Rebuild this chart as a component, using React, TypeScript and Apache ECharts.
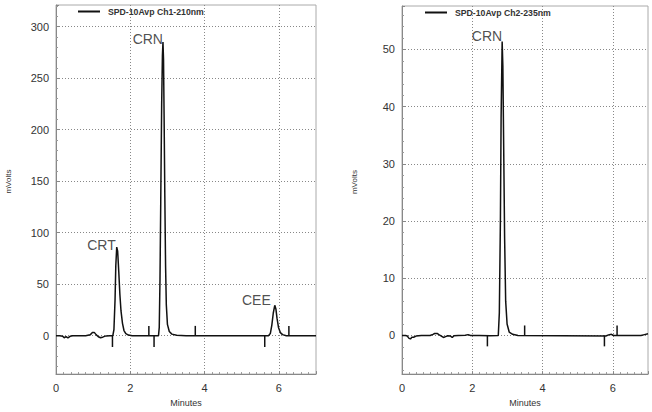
import React, { useEffect, useRef } from "react";
import * as echarts from "echarts";

const ch1Name = "SPD-10Avp Ch1-210nm";
const ch2Name = "SPD-10Avp Ch2-235nm";

const ch1Trace: number[][] = [
  [0, 0], [0.1, 0], [0.18, -0.5], [0.22, -2], [0.27, -1], [0.32, -2.2], [0.38, -0.6], [0.45, 0],
  [0.6, 0], [0.8, 0], [0.92, 0.8], [0.98, 3], [1.03, 3.2], [1.08, 1], [1.14, -1], [1.2, -2],
  [1.27, -1.2], [1.35, -0.2], [1.45, 0], [1.53, 0], [1.56, 6], [1.59, 35], [1.61, 68], [1.635, 86],
  [1.66, 82], [1.69, 62], [1.72, 40], [1.75, 24], [1.79, 12], [1.83, 5], [1.88, 2], [1.95, 0.6],
  [2.05, 0], [2.5, 0], [2.76, 0], [2.78, 8], [2.8, 55], [2.82, 130], [2.845, 225], [2.865, 272],
  [2.88, 285], [2.895, 268], [2.91, 215], [2.93, 135], [2.95, 68], [2.97, 30], [3.0, 11], [3.05, 4],
  [3.12, 1.5], [3.25, 0.5], [3.5, 0], [5.72, 0], [5.77, 2], [5.81, 10], [5.85, 22], [5.89, 29.5],
  [5.92, 26], [5.95, 17], [5.99, 8], [6.04, 3], [6.1, 1], [6.2, 0], [7, 0],
];

const ch2Trace: number[][] = [
  [0, 0], [0.1, 0], [0.15, -0.1], [0.2, -0.5], [0.24, -0.6], [0.28, -0.3], [0.33, -0.3], [0.4, -0.1],
  [0.55, 0], [0.8, 0], [0.88, 0.2], [0.93, 0.35], [1.0, 0.35], [1.05, 0.15], [1.12, -0.1], [1.18, -0.35],
  [1.24, -0.2], [1.3, -0.05], [1.38, -0.1], [1.43, -0.35], [1.48, -0.05], [1.6, 0], [1.8, 0.05],
  [1.88, 0.15], [1.95, 0], [2.2, 0], [2.5, -0.05], [2.74, 0], [2.77, 4], [2.8, 20], [2.82, 38],
  [2.85, 51.4], [2.87, 47], [2.89, 35], [2.92, 17], [2.95, 6], [2.99, 2], [3.05, 0.6], [3.15, 0.2],
  [3.3, 0], [5.8, -0.1], [5.9, 0.15], [5.96, 0.2], [6.02, 0], [6.2, 0], [6.8, 0], [6.9, 0.15], [7, 0.3],
];

// integration markers: [time, tick height]
const ch1Markers: number[][] = [
  [1.52, -11], [2.5, 9.5], [2.64, -11], [3.75, 9.5], [5.62, -11], [6.27, 9.5],
];
const ch2Markers: number[][] = [
  [2.43, -1.9], [3.49, 1.75], [5.76, -1.9], [6.12, 1.75],
];

// peak labels: [time, apex, name]
const ch1Peaks: (number | string)[][] = [
  [1.635, 86, "CRT"], [2.88, 285, "CRN"], [5.89, 29.5, "CEE"],
];
const ch2Peaks: (number | string)[][] = [[2.85, 51.4, "CRN"]];

const yRange1 = [-37.3, 321];
const yRange2 = [-6.75, 57.6];
const xRange = [0, 7];

const FONT = "'Liberation Sans', Arial, sans-serif";
const GRID_LINE = { type: [1, 2], color: "#888", width: 1 };

export default function App() {
  const ref = useRef<HTMLDivElement>(null);
  useEffect(() => {
    if (!ref.current) return;
    const chart = echarts.init(ref.current, undefined, { renderer: "svg" });

    const xAxisCfg = (gridIndex: number) => ({
      gridIndex,
      type: "value",
      min: xRange[0],
      max: xRange[1],
      interval: 2,
      name: "Minutes",
      nameLocation: "middle",
      nameGap: 22,
      nameTextStyle: { fontSize: 9, color: "#333", fontFamily: FONT },
      axisLine: { show: true, onZero: false, lineStyle: { color: "#888", width: 1 } },
      axisTick: { show: true, inside: true, length: 3, lineStyle: { color: "#888" } },
      minorTick: { show: true, splitNumber: 10, length: 2, lineStyle: { color: "#999" } },
      axisLabel: { margin: 8, fontSize: 11, color: "#333", fontFamily: FONT, showMaxLabel: false, showMinLabel: true },
      splitLine: { show: true, showMinLine: false, showMaxLine: false, lineStyle: GRID_LINE },
    });

    const yAxisCfg = (gridIndex: number, range: number[], splitNumber: number) => ({
      gridIndex,
      type: "value",
      min: range[0],
      max: range[1],
      splitNumber,
      name: "mVolts",
      nameLocation: "middle",
      nameRotate: 90,
      nameGap: 44,
      nameTextStyle: { fontSize: 8, color: "#333", fontFamily: FONT, padding: [0, 0, 0, 16] },
      axisLine: { show: true, onZero: false, lineStyle: { color: "#888", width: 1 } },
      axisTick: { show: true, inside: true, length: 3, lineStyle: { color: "#888" } },
      minorTick: { show: true, splitNumber: 5, length: 2, lineStyle: { color: "#999" } },
      axisLabel: { margin: 7, fontSize: 11, color: "#333", fontFamily: FONT, showMinLabel: false, showMaxLabel: false },
      splitLine: { show: true, showMinLine: false, showMaxLine: false, lineStyle: GRID_LINE },
    });

    const markerSeries = (idx: number, data: number[][]) => ({
      type: "custom",
      xAxisIndex: idx,
      yAxisIndex: idx,
      data,
      encode: { x: 0, y: 1 },
      silent: true,
      renderItem: (_p: any, api: any) => {
        const x = api.value(0);
        const y = api.value(1);
        const p0 = api.coord([x, 0]);
        const p1 = api.coord([x, y]);
        return {
          type: "line",
          shape: { x1: p0[0], y1: p0[1], x2: p1[0], y2: p1[1] },
          style: { stroke: "#111", lineWidth: 1.5 },
        };
      },
    });

    const labelSeries = (idx: number, data: (number | string)[][], offsets: number[][]) => ({
      type: "scatter",
      xAxisIndex: idx,
      yAxisIndex: idx,
      symbolSize: 0,
      silent: true,
      data: data.map((d, i) => ({
        value: d,
        label: { offset: offsets[i] },
      })),
      label: {
        show: true,
        position: "left",
        distance: 0,
        formatter: (p: any) => p.value[2],
        fontSize: 14,
        color: "#222",
        fontFamily: FONT,
      },
    });

    const traceSeries = (idx: number, name: string, data: number[][]) => ({
      type: "line",
      name,
      xAxisIndex: idx,
      yAxisIndex: idx,
      data,
      showSymbol: false,
      symbol: "none",
      lineStyle: { color: "#111", width: 1.5 },
      itemStyle: { color: "#111" },
      silent: true,
    });

    const legendCfg = (name: string, left: number, top: number) => ({
      data: [name],
      left,
      top,
      padding: 0,
      selectedMode: false,
      icon: "rect",
      itemWidth: 22,
      itemHeight: 2,
      textStyle: { fontSize: 8.7, fontWeight: "bold", color: "#333", fontFamily: FONT, padding: [0, 0, 0, 3] },
    });

    chart.setOption({
      animation: false,
      backgroundColor: "#fff",
      legend: [legendCfg(ch1Name, 78, 7), legendCfg(ch2Name, 425, 8)],
      grid: [
        { left: 56, top: 5, width: 260, height: 372, show: true, borderColor: "#aaa", borderWidth: 1, backgroundColor: "transparent" },
        { left: 402, top: 6, width: 246, height: 371, show: true, borderColor: "#aaa", borderWidth: 1, backgroundColor: "transparent" },
      ],
      xAxis: [xAxisCfg(0), xAxisCfg(1)],
      yAxis: [yAxisCfg(0, yRange1, 7), yAxisCfg(1, yRange2, 6)],
      series: [
        traceSeries(0, ch1Name, ch1Trace),
        markerSeries(0, ch1Markers),
        labelSeries(0, ch1Peaks, [[-1, -2], [0, -3], [-4, -5]]),
        traceSeries(1, ch2Name, ch2Trace),
        markerSeries(1, ch2Markers),
        labelSeries(1, ch2Peaks, [[0, -5]]),
      ],
    });
    return () => chart.dispose();
  }, []);
  return (
    <div
      ref={ref}
      style={{ position: "fixed", left: 0, top: 0, width: 652, height: 412, background: "#fff" }}
    />
  );
}
